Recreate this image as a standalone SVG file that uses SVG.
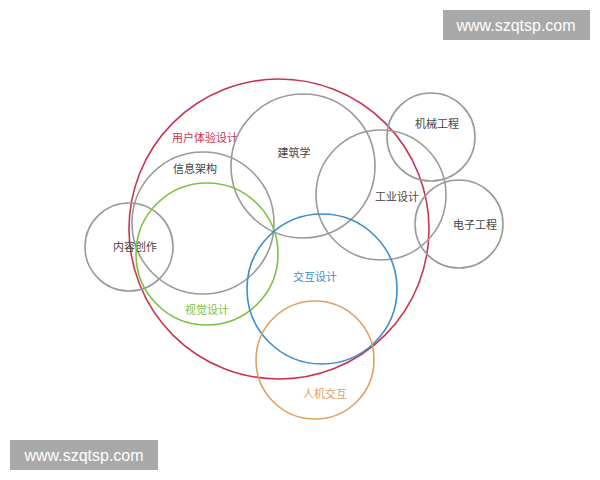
<svg xmlns="http://www.w3.org/2000/svg" width="600" height="480" viewBox="0 0 600 480">
<style>
.c{fill:none;stroke-width:1.6}
.g{stroke:#9a9a9a}
.t{font-family:"Noto Sans CJK SC","Noto Sans",sans-serif;font-size:11px;text-anchor:middle;dominant-baseline:central}
.wm{fill:#a9a9a9}
.wt{font-family:"Liberation Sans",Arial,sans-serif;font-size:16px;fill:#fff}
</style>
<rect width="600" height="480" fill="#fff"/>
<g id="ux"><circle class="c" cx="279" cy="229" r="150" stroke="#c8344f"/><text class="t" x="205" y="137" fill="#c8344f">用户体验设计</text></g>
<g id="ia"><circle class="c g" cx="203" cy="223" r="71"/><text class="t" x="195" y="168" fill="#444">信息架构</text></g>
<g id="arch"><circle class="c g" cx="303" cy="166" r="72"/><text class="t" x="294" y="152" fill="#444">建筑学</text></g>
<g id="id"><circle class="c g" cx="381" cy="195" r="65"/><text class="t" x="397" y="196" fill="#444">工业设计</text></g>
<g id="me"><circle class="c g" cx="431" cy="137" r="44"/><text class="t" x="437" y="123" fill="#444">机械工程</text></g>
<g id="ee"><circle class="c g" cx="459" cy="224" r="44"/><text class="t" x="475" y="224" fill="#444">电子工程</text></g>
<g id="content"><circle class="c g" cx="129" cy="247" r="44"/><text class="t" x="135" y="246" fill="#444">内容创作</text></g>
<g id="visual"><circle class="c" cx="207" cy="254" r="71" stroke="#7cc242"/><text class="t" x="207" y="309" fill="#7cc242">视觉设计</text></g>
<g id="ixd"><circle class="c" cx="322" cy="289" r="75" stroke="#3b8fca"/><text class="t" x="315" y="276" fill="#3b8fca">交互设计</text></g>
<g id="hci"><circle class="c" cx="315" cy="360" r="59" stroke="#e0a062"/><text class="t" x="325" y="393" fill="#e0a062">人机交互</text></g>
<g id="connectors"></g>
<g id="wm1"><rect class="wm" x="443" y="10" width="147" height="30"/><text class="wt" x="516" y="31" text-anchor="middle">www.szqtsp.com</text></g>
<g id="wm2"><rect class="wm" x="10" y="440" width="148" height="30"/><text class="wt" x="84" y="461" text-anchor="middle">www.szqtsp.com</text></g>
</svg>
